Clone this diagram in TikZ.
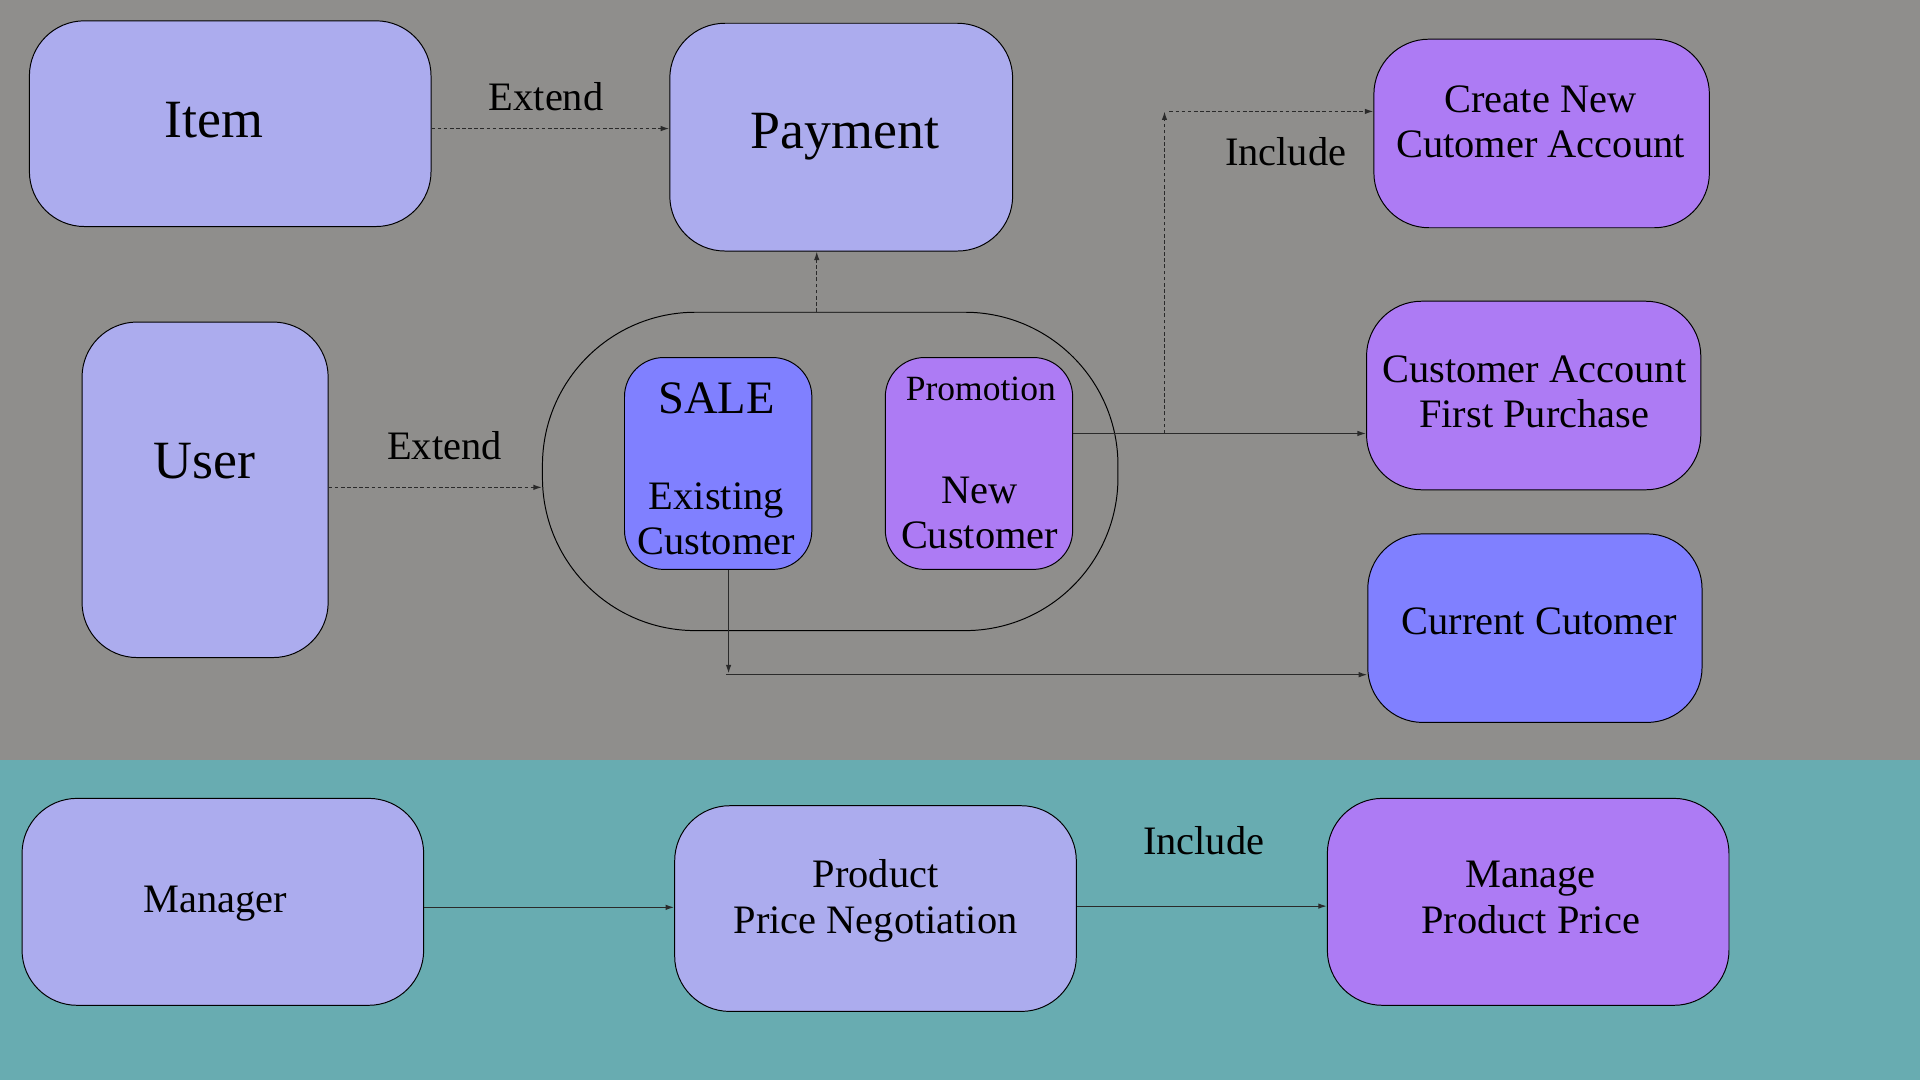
\documentclass[tikz,border=0pt]{standalone}
\usepackage{fontspec}
\setmainfont{Liberation Serif}
\usetikzlibrary{arrows.meta}
\definecolor{bggray}{HTML}{8F8E8C}
\definecolor{bgteal}{HTML}{68ACB1}
\definecolor{lav}{HTML}{ACACEE}
\definecolor{purp}{HTML}{AD7BF4}
\definecolor{blu}{HTML}{8080FF}
\definecolor{linec}{HTML}{2A2A2A}
\tikzset{
  box/.style={draw=black, line width=0.8pt, rounded corners=#1, inner sep=0pt},
  box/.default=45pt,
  txt/.style={anchor=base, align=center, inner sep=0pt, font=\fontsize{33}{37}\selectfont},
  bigtxt/.style={anchor=base, align=center, inner sep=0pt, font=\fontsize{44}{48}\selectfont},
  conn/.style={draw=linec, line width=1pt, -{Latex[length=7pt,width=4.5pt]}},
  dconn/.style={conn, dash pattern=on 3pt off 2pt},
}
\begin{document}
\begin{tikzpicture}[x=1pt,y=-1pt]
\useasboundingbox (0,0) rectangle (1568,882);
\fill[bggray] (0,0) rectangle (1568,621);
\fill[bgteal] (0,621) rectangle (1568,882);

% boxes
\node[box, fill=lav, minimum width=328pt, minimum height=168pt] (item) at (188,101) {};
\node[box, fill=lav, minimum width=280pt, minimum height=186pt] (payment) at (687,112) {};
\node[box, fill=purp, minimum width=274pt, minimum height=154pt] (create) at (1259,109) {};
\node[box, fill=purp, minimum width=273pt, minimum height=154pt] (first) at (1252.5,323) {};
\node[box, fill=blu, minimum width=273pt, minimum height=154pt] (current) at (1253.5,513) {};
\node[box, fill=lav, minimum width=201pt, minimum height=274pt] (user) at (167.5,400) {};
\node[box=125pt, minimum width=470pt, minimum height=260pt] (group) at (678,385) {};
\node[box=32pt, fill=blu, minimum width=153pt, minimum height=173pt] (sale) at (586.5,378.5) {};
\node[box=32pt, fill=purp, minimum width=153pt, minimum height=173pt] (promo) at (799.5,378.5) {};
\node[box, fill=lav, minimum width=328pt, minimum height=169pt] (manager) at (182,736.5) {};
\node[box, fill=lav, minimum width=328pt, minimum height=168pt] (ppn) at (715,742) {};
\node[box, fill=purp, minimum width=328pt, minimum height=169pt] (mpp) at (1248,736.5) {};

% texts
\node[bigtxt] (tItem) at (175,112) {Item};
\node[bigtxt] (tPay) at (690,121) {Payment};
\node[bigtxt] (tUser) at (167,391) {User};
\node[txt] (tCreate) at (1258,129) {Create New\\Cutomer Account};
\node[txt] (tFirst) at (1253,349) {Customer Account\\First Purchase};
\node[txt] (tCur) at (1257,518) {Current Cutomer};
\node[anchor=base, inner sep=0pt, font=\fontsize{38}{42}\selectfont] (tSale) at (585,338) {SALE};
\node[txt] (tExist) at (585,453) {Existing\\Customer};
\node[anchor=base, inner sep=0pt, font=\fontsize{29}{33}\selectfont] (tPromo) at (801,327) {Promotion};
\node[txt] (tNew) at (800,448) {New\\Customer};
\node[txt] (tMan) at (176,745) {Manager};
\node[txt] (tPPN) at (715,762) {Product\\Price Negotiation};
\node[txt] (tMPP) at (1250,762) {Manage\\Product Price};

% labels
\node[txt] (lExt1) at (446,90) {Extend};
\node[txt] (lExt2) at (363,375) {Extend};
\node[txt] (lInc1) at (1050,135) {Include};
\node[txt] (lInc2) at (983,698) {Include};

% connectors
\draw[dconn] ([yshift=-4pt]item.east) -- ([yshift=7pt]payment.west);
\draw[dconn] ([yshift=2pt]user.east) -- ([yshift=-13pt]group.west);
\coordinate (gtop) at ([xshift=-11pt]group.north);
\draw[dconn] (gtop) -- (gtop |- payment.south);
\draw[conn] ([yshift=24.5pt]promo.east) -- ([yshift=-31pt]first.west);
\coordinate (j1) at (951,354);
\coordinate (j2) at (951,91);
\coordinate (j2b) at (955,91);
\draw[dconn] (j1) -- (j2);
\draw[dconn] (j2b) -- ([yshift=18pt]create.west);
\coordinate (s1) at ([xshift=8.5pt]sale.south);
\coordinate (j3) at (595,550);
\coordinate (j4) at (593,551);
\draw[conn] (s1) -- (j3);
\draw[conn] (j4) -- ([yshift=-38pt]current.west);
\draw[conn] ([yshift=-4.5pt]manager.east) -- ([yshift=1pt]ppn.west);
\draw[conn] ([yshift=2pt]ppn.east) -- ([yshift=-3.5pt]mpp.west);
\end{tikzpicture}
\end{document}
